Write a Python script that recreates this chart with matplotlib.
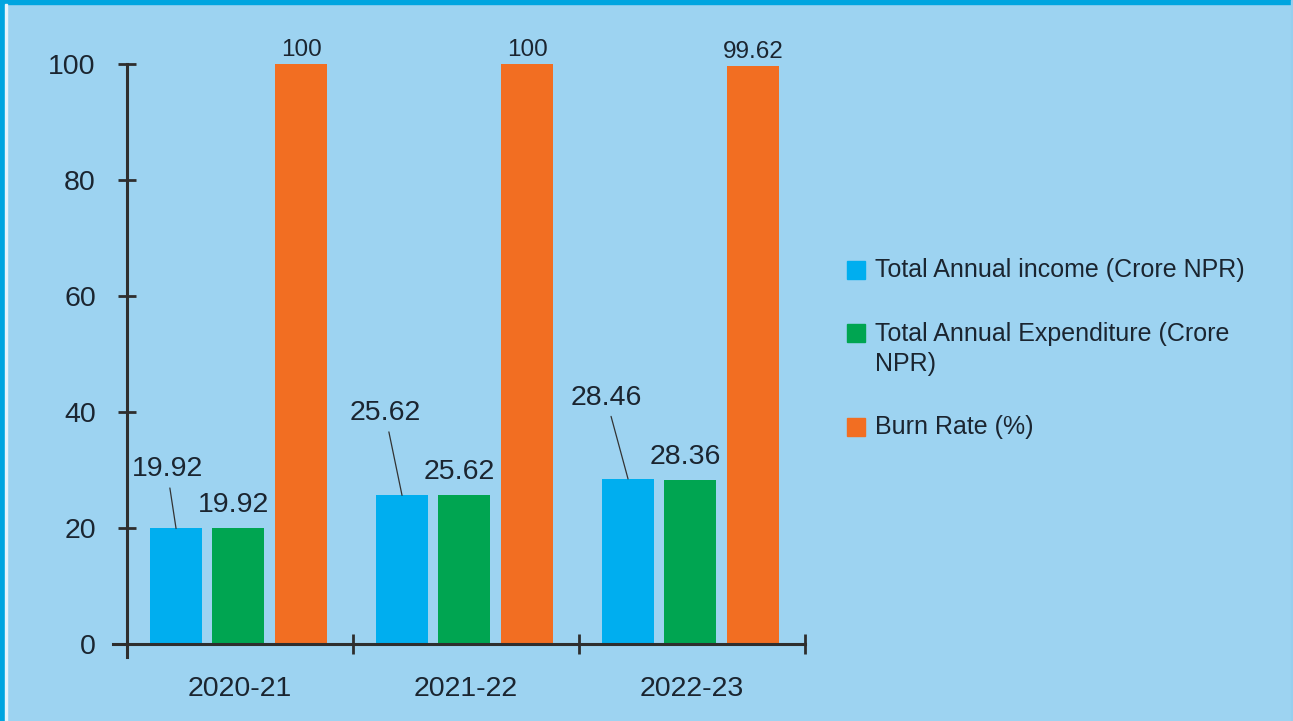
import matplotlib
matplotlib.use("Agg")
import matplotlib.pyplot as plt
from matplotlib.patches import Rectangle
import numpy as np

# ---- data ----
categories = ["2020-21", "2021-22", "2022-23"]
income = [19.92, 25.62, 28.46]
expenditure = [19.92, 25.62, 28.36]
burn_rate = [100, 100, 99.62]
income_labels = ["19.92", "25.62", "28.46"]
expenditure_labels = ["19.92", "25.62", "28.36"]
burn_labels = ["100", "100", "99.62"]
series_names = ["Total Annual income (Crore NPR)",
                "Total Annual Expenditure (Crore\nNPR)",
                "Burn Rate (%)"]
y_ticks = [0, 20, 40, 60, 80, 100]

# ---- style ----
BG = "#9dd3f1"
BORDER = "#00a5e0"
C_BLUE = "#00aeef"
C_GREEN = "#00a551"
C_ORANGE = "#f26e22"
TXT = "#1b2530"
AX = "#2e2e2e"
plt.rcParams["font.family"] = ["Liberation Sans", "DejaVu Sans"]

W, H = 1293, 721
fig = plt.figure(figsize=(W / 100, H / 100), dpi=100)
fig.patch.set_facecolor(BG)

# frame borders
fig.patches.append(Rectangle((0, 1 - 4 / H), 1, 4 / H, transform=fig.transFigure, color=BORDER, zorder=0))
fig.patches.append(Rectangle((0, 0), 5 / W, 1, transform=fig.transFigure, color=BORDER, zorder=0))
fig.patches.append(Rectangle((5 / W, 0), 2 / W, 1 - 4 / H, transform=fig.transFigure, color="#e8f4fb", zorder=0))
fig.patches.append(Rectangle((1 - 2 / W, 0), 2 / W, 1, transform=fig.transFigure, color="#96cfef", zorder=0))

left, right, bottom, top = 127, 805, 644, 64
ax = fig.add_axes([left / W, 1 - bottom / H, (right - left) / W, (bottom - top) / H])
ax.set_facecolor("none")

x = np.arange(len(categories))
bw = 0.228
offs = [-0.283, -0.01, 0.27]
ax.bar(x + offs[0], income, bw, color=C_BLUE, zorder=2)
ax.bar(x + offs[1], expenditure, bw, color=C_GREEN, zorder=2)
ax.bar(x + offs[2], burn_rate, bw, color=C_ORANGE, zorder=2)

ax.set_xlim(-0.5, 2.5)
ax.set_ylim(0, 100)

for s in ax.spines.values():
    s.set_visible(False)
# axis lines (extended slightly past the origin)
ax.plot([-14 / (right - left), 1], [0, 0], transform=ax.transAxes, color=AX, lw=2.2, clip_on=False, zorder=3)
ax.plot([0, 0], [-13 / (bottom - top), 1], transform=ax.transAxes, color=AX, lw=2.2, clip_on=False, zorder=3)

ax.set_yticks(y_ticks)
ax.set_yticklabels([str(v) for v in y_ticks])
ax.tick_params(axis="y", direction="inout", length=13, width=2, color=AX,
               labelsize=20.5, labelcolor=TXT, pad=16)
ax.set_xticks(x)
ax.set_xticklabels(categories)
ax.tick_params(axis="x", which="major", length=0, labelsize=20.5, labelcolor=TXT, pad=23)
ax.set_xticks(np.arange(-0.5, 3, 1)[1:], minor=True)
ax.tick_params(axis="x", which="minor", direction="inout", length=15, width=2, color=AX)

# value labels
blue_off = [(-9, 59), (-17, 82), (-22, 81)]
for i, v in enumerate(income):
    ax.annotate(income_labels[i], xy=(x[i] + offs[0], v), xytext=blue_off[i],
                textcoords="offset pixels", ha="center", va="center", fontsize=20.5, color=TXT,
                arrowprops=dict(arrowstyle="-", color="#333333", lw=0.9, shrinkA=2, shrinkB=0),
                zorder=4)
for i, v in enumerate(expenditure):
    ax.annotate(expenditure_labels[i], xy=(x[i] + offs[1], v), xytext=(-4, 10),
                textcoords="offset pixels", ha="center", va="bottom", fontsize=20.5, color=TXT)
for i, v in enumerate(burn_rate):
    ax.annotate(burn_labels[i], xy=(x[i] + offs[2], v), xytext=(0, 3),
                textcoords="offset pixels", ha="center", va="bottom", fontsize=17.5, color=TXT,
                annotation_clip=False)

# legend (manual)
colors = [C_BLUE, C_GREEN, C_ORANGE]
marker_y = [270, 333, 427]
line_h = 32
for name, c, my in zip(series_names, colors, marker_y):
    fig.patches.append(Rectangle((847 / W, 1 - (my + 9) / H), 18 / W, 18 / H,
                                 transform=fig.transFigure, color=c))
    nlines = name.count("\n") + 1
    cy = my + (nlines - 1) * line_h / 2
    fig.text(875 / W, 1 - cy / H, name, ha="left", va="center", fontsize=18,
             color=TXT, linespacing=1.28)

fig.savefig("out.png", dpi=100, facecolor=BG)
